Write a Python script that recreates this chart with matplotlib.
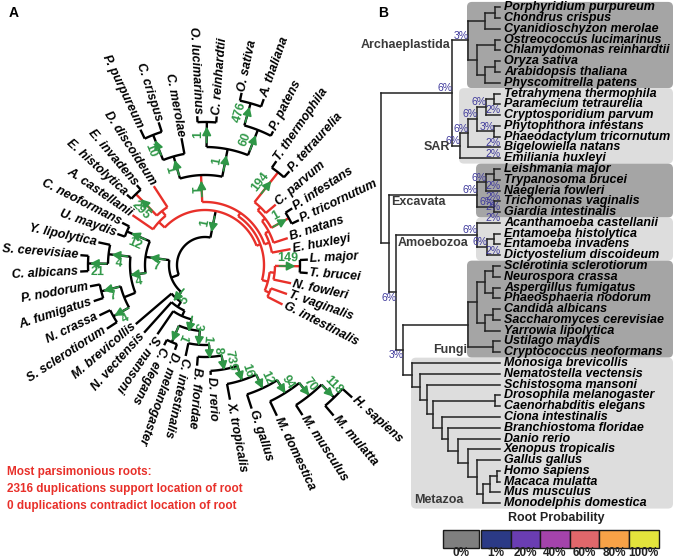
import numpy as np
import matplotlib
matplotlib.use("Agg")
import matplotlib.pyplot as plt
from matplotlib.patches import FancyBboxPatch, Rectangle, FancyArrowPatch

plt.rcParams['font.family'] = ['Liberation Sans', 'DejaVu Sans']

# ======================= DATA =======================
# Panel A: circular tree (clockwise leaf order), branch lengths
A_METAZOA = ("((((((((((((H. sapiens:13,M. mulatta:13)N497:18,M. musculus:12)N490:16,"
             "M. domestica:16)N483:15,G. gallus:15)N477:15,X. tropicalis:16)N468:15,"
             "D. rerio:4)N458:14,B. floridae:9)N448:12,C. intestinalis:13)N442:14,"
             "(D. melanogaster:6,C. elegans:6)DC:18)N433:10,S. mansoni:28)BIL:6,"
             "N. vectensis:41)EUM:6,M. brevicollis:47)MET:8")
A_FUNGI = ("((((S. sclerotiorum:12,N. crassa:12)SN:18,(A. fumigatus:10,P. nodorum:10)AP:20)PEZ:12,"
           "((C. albicans:8,S. cerevisiae:8)CS:20,Y. lipolytica:12)SAC:22)ASCO:15,"
           "(U. maydis:8,C. neoformans:8)BAS:25)FUN:24")
A_AMOEBOZOA = "(A. castellanii:25,((E. histolytica:6,E. invadens:6)EE:30,D. discoideum:25)A1:6)AMO:8"
A_ARCH = ("(((P. purpureum:10,C. crispus:10)PC:27,C. merolae:16)RHO:23,"
          "((O. lucimarinus:6,C. reinhardtii:6)OC:25,((O. sativa:8,A. thaliana:8)OA:23,"
          "P. patens:5)LAND:27)VIR:28)ARCH:27")
A_SAR = ("(((((T. thermophila:8,P. tetraurelia:8)TP:38,C. parvum:13)ALV:4,"
         "(P. infestans:8,P. tricornutum:8)STR:20)S3:4,B. natans:15)S2:4,E. huxleyi:19)SAR:5")
A_EXC = "(((L. major:8,T. brucei:8)LT:25,N. fowleri:18)E1:5,(T. vaginalis:17,G. intestinalis:17)E2:5)EXC:6"
A_TREE = ("((" + A_METAZOA + "," + A_FUNGI + ")OPI:8,(" + A_AMOEBOZOA + ",((" + A_ARCH + ","
          + A_SAR + ")AS:4," + A_EXC + ")R2:4)R1:27)ROOT:28;")

# nodes on most-parsimonious root path (red)
A_RED = ["R1", "R2", "AS", "SAR", "S2", "S3", "ALV", "AMO", "A1", "EXC", "E1", "E2"]
# duplication counts (green arrows) on branches
A_ARROWS = {"R1": "1", "MET": "5", "FUN": "7", "BAS": "12", "ASCO": "4", "SAC": "4",
            "CS": "21", "AP": "7", "SN": "4", "EE": "295", "ARCH": "1", "RHO": "1",
            "VIR": "1", "PC": "10", "OC": "1", "LAND": "60", "OA": "476", "TP": "194",
            "STR": "1", "LT": "149", "N433": "3", "N442": "1", "DC": "1", "N448": "8",
            "N458": "739", "N468": "16", "N477": "12", "N483": "94", "N490": "70",
            "N497": "118"}
A_ARROWS_INWARD = ["R1"]
A_NOTE = ["Most parsimonious roots:",
          "2316 duplications support location of root",
          "0 duplications contradict location of root"]

# Panel B: rectangular tree
B_ARCH = ("(((Porphyridium purpureum,Chondrus crispus)PC:10,Cyanidioschyzon merolae)RHO:17,"
          "((Ostreococcus lucimarinus,Chlamydomonas reinhardtii)OC:18,((Oryza sativa,"
          "Arabidopsis thaliana)OA:10,Physcomitrella patens)LAND:8)VIR:9)ARCH:16")
B_SAR = ("(((((Tetrahymena thermophila,Paramecium tetraurelia)TP:8,Cryptosporidium parvum)ALV:9,"
         "(Phytophthora infestans,Phaeodactylum tricornutum)STR:17)S3:9,Bigelowiella natans)S2:8,"
         "Emiliania huxleyi)SAR:8")
B_EXC = ("(((Leishmania major,Trypanosoma brucei)LT:8,Naegleria fowleri)E1:9,"
         "(Trichomonas vaginalis,Giardia intestinalis)E2:17)EXC:88")
B_AMO = ("(Acanthamoeba castellanii,((Entamoeba histolytica,Entamoeba invadens)EE:7,"
         "Dictyostelium discoideum)A1:10)AMO:81")
B_FUN = ("((((Sclerotinia sclerotiorum,Neurospora crassa)SN:8,(Aspergillus fumigatus,"
         "Phaeosphaeria nodorum)AP:8)PEZ:8,((Candida albicans,Saccharomyces cerevisiae)CS:8,"
         "Yarrowia lipolytica)SAC:8)ASCO:9,(Ustilago maydis,Cryptococcus neoformans)BAS:25)FUN:65")
B_MET = ("(Monosiga brevicollis,(Nematostella vectensis,(Schistosoma mansoni,((Drosophila melanogaster,"
         "Caenorhabditis elegans)DC:62,(Ciona intestinalis,(Branchiostoma floridae,(Danio rerio,"
         "(Xenopus tropicalis,(Gallus gallus,(((Homo sapiens,Macaca mulatta)N497:7,Mus musculus)N490:7,"
         "Monodelphis domestica)N483:6)N477:9)N468:10)N458:10)N448:6)N442:9)N433:6)BIL:7)EUM:8)MET:9")
B_TREE = ("((" + B_ARCH + "," + B_SAR + ")AS:71,(" + B_EXC + ",(" + B_AMO + ",(" + B_FUN + ","
          + B_MET + ")X3:7)X2:7)X1:8)ROOT:0;")

B_PCT = {"AS": "6%", "ARCH": "3%", "SAR": "6%", "S2": "6%", "S3": "6%", "ALV": "6%",
         "Cryptosporidium parvum": "2%", "STR": "3%", "Bigelowiella natans": "2%",
         "Emiliania huxleyi": "2%", "EXC": "6%", "E1": "6%", "Naegleria fowleri": "2%",
         "E2": "6%", "Trichomonas vaginalis": "2%", "Giardia intestinalis": "2%",
         "AMO": "6%", "Acanthamoeba castellanii": "2%", "A1": "6%",
         "Dictyostelium discoideum": "2%", "X2": "6%", "X3": "3%"}
B_CLADE_NAMES = ["Archaeplastida", "SAR", "Excavata", "Amoebozoa", "Fungi", "Metazoa"]
B_CLADE_NODES = ["ARCH", "SAR", "EXC", "AMO", "FUN", "MET"]

LEG_TITLE = "Root Probability"
LEG_LABELS = ["0%", "1%", "20%", "40%", "60%", "80%", "100%"]
LEG_COLORS = ["#7f7f7f", "#2b3a86", "#6a3db2", "#a443ab", "#e0676b", "#f8a247", "#e3e43c"]

# ======================= STYLE =======================
GREEN = "#2f9747"
RED = "#e8302a"
PURPLE = "#3f3a9c"
DARKBOX = "#a5a5a5"
LIGHTBOX = "#dddddd"
W, H = 675, 559


def parse(s):
    s = s.strip().rstrip(';')
    pos = [0]

    def node():
        ch = []
        if s[pos[0]] == '(':
            pos[0] += 1
            while True:
                ch.append(node())
                if s[pos[0]] == ',':
                    pos[0] += 1
                    continue
                if s[pos[0]] == ')':
                    pos[0] += 1
                    break
        st = pos[0]
        while pos[0] < len(s) and s[pos[0]] not in ',():':
            pos[0] += 1
        name = s[st:pos[0]].strip()
        ln = 0.0
        if pos[0] < len(s) and s[pos[0]] == ':':
            pos[0] += 1
            st = pos[0]
            while pos[0] < len(s) and s[pos[0]] not in ',()':
                pos[0] += 1
            ln = float(s[st:pos[0]])
        n = {'name': name, 'len': ln, 'children': ch, 'parent': None}
        for c in ch:
            c['parent'] = n
        return n
    return node()


def walk(n):
    yield n
    for c in n['children']:
        yield from walk(c)


fig = plt.figure(figsize=(W / 100, H / 100), dpi=100)
ax = fig.add_axes([0, 0, 1, 1])
ax.set_xlim(0, W)
ax.set_ylim(H, 0)
ax.axis('off')

# ======================= PANEL B =======================
B_ROOT_X, B_TIP, B_Y0, B_DY = 381, 500, 7.3, 10.78
bt = parse(B_TREE)
bleaves = []


def lay_b(n, x0):
    n['x'] = x0 + n['len']
    if n['children']:
        for c in n['children']:
            lay_b(c, n['x'])
        n['y'] = 0.5 * (n['children'][0]['y'] + n['children'][-1]['y'])
    else:
        n['y'] = B_Y0 + len(bleaves) * B_DY
        n['x'] = B_TIP
        bleaves.append(n)


lay_b(bt, B_ROOT_X)
bn = {n['name']: n for n in walk(bt) if n['name']}

# clade boxes
for k, (cname, node) in enumerate(zip(B_CLADE_NAMES, B_CLADE_NODES)):
    nd = bn[node]
    lv = [m for m in walk(nd) if not m['children']]
    top = lv[0]['y'] - B_DY / 2
    bot = lv[-1]['y'] + B_DY / 2
    left = nd['x'] - 1
    box = FancyBboxPatch((left, top), 673 - left, bot - top,
                         boxstyle="round,pad=0,rounding_size=5",
                         fc=DARKBOX if k % 2 == 0 else LIGHTBOX, ec='none', zorder=0)
    ax.add_patch(box)
    nd['box'] = (left, top, bot)

for n in walk(bt):
    if n['children']:
        c0, c1 = n['children'][0], n['children'][-1]
        ax.plot([n['x'], n['x']], [c0['y'], c1['y']], color='#222222', lw=1.1,
                solid_capstyle='projecting', zorder=2)
        for c in n['children']:
            ax.plot([n['x'], c['x']], [c['y'], c['y']], color='#222222', lw=1.1,
                    solid_capstyle='projecting', zorder=2)

for lf in bleaves:
    ax.text(B_TIP + 4, lf['y'], lf['name'], fontsize=9, fontweight='bold',
            fontstyle='italic', ha='left', va='center', color='black', zorder=3)

for key, txt in B_PCT.items():
    nd = bn[key]
    if key in ("X2", "X3"):
        ax.text(nd['x'] + 0.5, nd['y'] + 0.5, txt, fontsize=7.5, color=PURPLE,
                ha='right', va='top', zorder=4)
    else:
        ax.text(nd['x'] + 0.5, nd['y'] + 0.3, txt, fontsize=7.5, color=PURPLE,
                ha='right', va='bottom', zorder=4)

glab = dict(fontsize=9, fontweight='bold', color='#3a3a3a', zorder=4)
ax.text(bn['AS']['x'] - 2, bn['ARCH']['y'] + 5, B_CLADE_NAMES[0], ha='right', va='center', **glab)
ax.text(bn['AS']['x'] - 2, bn['SAR']['y'] + 1, B_CLADE_NAMES[1], ha='right', va='center', **glab)
ax.text(bn['X1']['x'] + 2, bn['EXC']['y'] + 1.5, B_CLADE_NAMES[2], ha='left', va='top', **glab)
ax.text(bn['X2']['x'] + 2, bn['AMO']['y'] + 1.5, B_CLADE_NAMES[3], ha='left', va='top', **glab)
ax.text(bn['FUN']['x'] - 1, bn['FUN']['box'][2] - 8, B_CLADE_NAMES[4], ha='right', va='center', **glab)
ax.text(bn['MET']['box'][0] + 3, bn['MET']['box'][2] - 3, B_CLADE_NAMES[5], ha='left', va='bottom', **glab)

# legend
ax.text(556, 518, LEG_TITLE, fontsize=9, fontweight='bold', ha='center', va='center', color='#222222')
for i, (lab, col) in enumerate(zip(LEG_LABELS, LEG_COLORS)):
    if i == 0:
        x0, w = 443, 36
    else:
        x0, w = 481 + (i - 1) * 29.6, 29.6
    ax.add_patch(Rectangle((x0, 530), w, 18, fc=col, ec='#1a1a1a', lw=1.0, zorder=3))
    ax.text(x0 + w / 2, 553, lab, fontsize=8.5, fontweight='bold', ha='center', va='center',
            color='#222222')

# ======================= PANEL A =======================
CX, CY = 205, 265
A_START, A_STEP = 318.0, 7.5


def pol(r, a):
    t = np.deg2rad(a)
    return CX + r * np.cos(t), CY - r * np.sin(t)


at = parse(A_TREE)
aleaves = []


def lay_a(n, r0):
    n['r'] = r0 + n['len']
    if n['children']:
        for c in n['children']:
            lay_a(c, n['r'])
        n['a'] = 0.5 * (n['children'][0]['a'] + n['children'][-1]['a'])
    else:
        n['a'] = A_START - len(aleaves) * A_STEP
        aleaves.append(n)


lay_a(at, 0)
an = {n['name']: n for n in walk(at) if n['name']}

LW_A = 1.7
for n in walk(at):
    if not n['children']:
        continue
    col = RED if n['name'] in A_RED else 'black'
    a0, a1 = n['children'][0]['a'], n['children'][-1]['a']
    aa = np.linspace(a0, a1, 80)
    xs, ys = pol(n['r'], aa)
    ax.plot(xs, ys, color=col, lw=LW_A, solid_capstyle='butt', zorder=2)
    for c in n['children']:
        p0 = pol(n['r'], c['a'])
        p1 = pol(c['r'], c['a'])
        ax.plot([p0[0], p1[0]], [p0[1], p1[1]], color=col, lw=LW_A,
                solid_capstyle='butt', zorder=2)


def readable(a):
    an_ = ((a + 180) % 360) - 180
    if -125 < an_ < 90:
        return an_, 'left', 1
    return an_ + 180 if an_ < 0 else an_ - 180, 'right', -1


for lf in aleaves:
    rot, ha, _ = readable(lf['a'])
    x, y = pol(lf['r'] + 2, lf['a'])
    ax.text(x, y, lf['name'], fontsize=9, fontweight='bold', fontstyle='italic',
            rotation=rot, rotation_mode='anchor', ha=ha, va='center', zorder=3)

for name, num in A_ARROWS.items():
    c = an[name]
    p = c['parent']
    a = c['a']
    rm = 0.5 * (p['r'] + c['r'])
    ra, rb = rm - 8, rm + 8
    if name in A_ARROWS_INWARD:
        ra, rb = rb, ra
    pa, pb = pol(ra, a), pol(rb, a)
    ax.add_patch(FancyArrowPatch(pa, pb, arrowstyle='-|>,head_length=5,head_width=2.6',
                                 mutation_scale=1, lw=1.3, color=GREEN, shrinkA=0, shrinkB=0,
                                 zorder=4))
    t = np.deg2rad(a)
    ox, oy = -np.sin(t) * 8, -np.cos(t) * 8
    mx, my = pol(rm, a)
    rot, _, _ = readable(a)
    ax.text(mx + ox, my + oy, num, fontsize=9, fontweight='bold', color=GREEN,
            rotation=rot, rotation_mode='anchor', ha='center', va='center', zorder=4)

for i, line in enumerate(A_NOTE):
    ax.text(7, 472 + i * 17, line, fontsize=8.5, fontweight='bold', color=RED,
            ha='left', va='center')

ax.text(14, 13, "A", fontsize=10, fontweight='bold', ha='center', va='center')
ax.text(383, 13, "B", fontsize=10, fontweight='bold', ha='center', va='center')

fig.savefig('out.png', dpi=100)
